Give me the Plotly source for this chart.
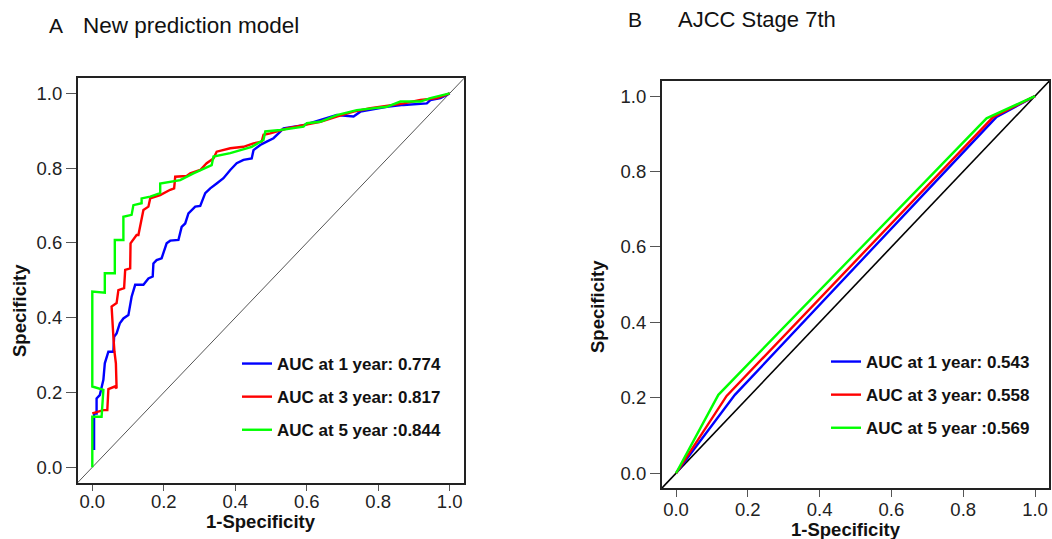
import plotly.graph_objects as go

# ---------------- data ----------------
# Panel A: New prediction model (time-dependent ROC)
a_fpr_1y = [0.005, 0.005, 0.012, 0.012, 0.021, 0.031, 0.035, 0.045, 0.059, 0.061, 0.068, 0.077, 0.087,
            0.101, 0.110, 0.120, 0.143, 0.157, 0.169, 0.171, 0.180, 0.194, 0.208, 0.218, 0.241, 0.250,
            0.260, 0.269, 0.288, 0.302, 0.316, 0.330, 0.348, 0.367, 0.386, 0.404, 0.423, 0.446, 0.451,
            0.470, 0.488, 0.507, 0.521, 0.535, 0.591, 0.638, 0.684, 0.731, 0.750, 0.824, 0.871, 0.936,
            0.946, 0.974, 1.0]
a_tpr_1y = [0.046, 0.144, 0.144, 0.184, 0.193, 0.234, 0.278, 0.309, 0.309, 0.349, 0.358, 0.385, 0.398,
            0.407, 0.456, 0.488, 0.488, 0.505, 0.510, 0.545, 0.554, 0.559, 0.599, 0.606, 0.608, 0.643,
            0.652, 0.679, 0.697, 0.699, 0.733, 0.746, 0.759, 0.773, 0.795, 0.813, 0.822, 0.826, 0.848,
            0.862, 0.871, 0.880, 0.893, 0.906, 0.915, 0.929, 0.942, 0.938, 0.951, 0.964, 0.969, 0.973,
            0.982, 0.987, 1.0]

a_fpr_3y = [0.0, 0.021, 0.031, 0.042, 0.045, 0.063, 0.068, 0.066, 0.062, 0.059, 0.054, 0.068, 0.073,
            0.089, 0.092, 0.106, 0.107, 0.124, 0.129, 0.143, 0.157, 0.162, 0.190, 0.218, 0.229, 0.232,
            0.264, 0.274, 0.302, 0.320, 0.339, 0.348, 0.386, 0.423, 0.451, 0.474, 0.479, 0.498, 0.544,
            0.591, 0.638, 0.684, 0.731, 0.778, 0.871, 0.918, 0.965, 1.0]
a_tpr_3y = [0.144, 0.149, 0.153, 0.153, 0.209, 0.216, 0.211, 0.278, 0.309, 0.349, 0.430, 0.439, 0.474,
            0.479, 0.528, 0.532, 0.599, 0.621, 0.621, 0.688, 0.697, 0.719, 0.728, 0.742, 0.746, 0.777,
            0.779, 0.786, 0.795, 0.813, 0.826, 0.844, 0.853, 0.857, 0.866, 0.871, 0.889, 0.893, 0.906,
            0.915, 0.924, 0.938, 0.951, 0.960, 0.973, 0.982, 0.987, 1.0]

a_fpr_5y = [0.0, 0.0, 0.026, 0.031, 0.0, 0.0, 0.035, 0.035, 0.063, 0.063, 0.087, 0.087, 0.110, 0.115,
            0.138, 0.138, 0.162, 0.190, 0.190, 0.227, 0.246, 0.283, 0.306, 0.334, 0.339, 0.386, 0.446,
            0.479, 0.484, 0.526, 0.591, 0.600, 0.638, 0.684, 0.740, 0.824, 0.862, 0.918, 0.946, 1.0]
a_tpr_5y = [0.0, 0.135, 0.135, 0.207, 0.216, 0.470, 0.467, 0.519, 0.519, 0.608, 0.608, 0.670, 0.675,
            0.701, 0.706, 0.719, 0.724, 0.733, 0.759, 0.764, 0.768, 0.786, 0.795, 0.808, 0.831, 0.840,
            0.857, 0.875, 0.898, 0.902, 0.911, 0.920, 0.924, 0.942, 0.955, 0.964, 0.978, 0.978, 0.987, 1.0]

# Panel B: AJCC Stage 7th
b_fpr_1y = [0.0, 0.164, 0.893, 1.0]
b_tpr_1y = [0.0, 0.208, 0.945, 1.0]
b_fpr_3y = [0.0, 0.141, 0.884, 1.0]
b_tpr_3y = [0.0, 0.205, 0.945, 1.0]
b_fpr_5y = [0.0, 0.118, 0.865, 1.0]
b_tpr_5y = [0.0, 0.208, 0.941, 1.0]

labels_a = ["AUC at 1 year: 0.774", "AUC at 3 year: 0.817", "AUC at 5 year :0.844"]
labels_b = ["AUC at 1 year: 0.543", "AUC at 3 year: 0.558", "AUC at 5 year :0.569"]

reference_line = [-0.05, 1.05]
tick_vals = [0.0, 0.2, 0.4, 0.6, 0.8, 1.0]
tick_text = ["0.0", "0.2", "0.4", "0.6", "0.8", "1.0"]

colors = ["#0000FF", "#FF0000", "#00FF00"]
FONT = "Liberation Sans, Arial, sans-serif"

fig = go.Figure()

# reference diagonals
fig.add_trace(go.Scatter(x=reference_line, y=reference_line, mode="lines",
                         line=dict(color="#555555", width=1), showlegend=False,
                         xaxis="x", yaxis="y", hoverinfo="skip"))
fig.add_trace(go.Scatter(x=reference_line, y=reference_line, mode="lines",
                         line=dict(color="#000000", width=1.6), showlegend=False,
                         xaxis="x2", yaxis="y2", hoverinfo="skip"))

# empty carriers so the label-only axes get drawn
fig.add_trace(go.Scatter(x=[], y=[], mode="lines", showlegend=False, xaxis="x3", yaxis="y",
                         hoverinfo="skip"))
fig.add_trace(go.Scatter(x=[], y=[], mode="lines", showlegend=False, xaxis="x4", yaxis="y2",
                         hoverinfo="skip"))

a_series = [(a_fpr_1y, a_tpr_1y), (a_fpr_3y, a_tpr_3y), (a_fpr_5y, a_tpr_5y)]
b_series = [(b_fpr_1y, b_tpr_1y), (b_fpr_3y, b_tpr_3y), (b_fpr_5y, b_tpr_5y)]

for i, (xs, ys) in enumerate(a_series):
    fig.add_trace(go.Scatter(x=xs, y=ys, mode="lines", name=labels_a[i],
                             line=dict(color=colors[i], width=2.4),
                             xaxis="x", yaxis="y", legend="legend",
                             legendgroup="a%d" % i))
for i, (xs, ys) in enumerate(b_series):
    fig.add_trace(go.Scatter(x=xs, y=ys, mode="lines", name=labels_b[i],
                             line=dict(color=colors[i], width=2.4),
                             xaxis="x2", yaxis="y2", legend="legend2",
                             legendgroup="b%d" % i))

W, H = 1052, 539

def px_x(p):
    return p / W

def px_y(p):
    return 1 - p / H

tick_font = dict(family=FONT, size=18.5, color="#222222")

def axis_style(ticklen, labels=True):
    return dict(
        tickvals=tick_vals, ticktext=tick_text, ticks="outside", ticklen=ticklen,
        tickwidth=1, tickcolor="#555555", showline=True, linecolor="#222222",
        linewidth=2, mirror=True, showgrid=False, zeroline=False,
        showticklabels=labels, tickfont=tick_font,
    )

def label_axis(domain, rng, overlay, pos):
    # carries only the tick labels, placed at the reference's distance from the frame
    return dict(domain=domain, range=rng, overlaying=overlay, anchor="free", position=pos,
                side="bottom", tickvals=tick_vals, ticktext=tick_text, ticks="",
                showline=False, showgrid=False, zeroline=False, tickfont=tick_font)

legend_font = dict(family=FONT, size=17, color="#111111", weight="bold")

xa_dom = [px_x(78), px_x(464)]
xb_dom = [px_x(662), px_x(1049)]
xa_rng = [-0.04, 1.04]
xb_rng = [-0.039, 1.039]

fig.update_layout(
    width=W, height=H,
    margin=dict(l=0, r=0, t=0, b=0),
    paper_bgcolor="white", plot_bgcolor="white",
    xaxis=dict(domain=xa_dom, range=xa_rng, anchor="y", **axis_style(6, labels=False)),
    yaxis=dict(domain=[px_y(483), px_y(78)], range=[-0.042, 1.041], anchor="x", **axis_style(10)),
    xaxis2=dict(domain=xb_dom, range=xb_rng, anchor="y2", **axis_style(7, labels=False)),
    yaxis2=dict(domain=[px_y(488), px_y(81)], range=[-0.039, 1.040], anchor="x2", **axis_style(10)),
    xaxis3=label_axis(xa_dom, xa_rng, "x", px_y(488)),
    xaxis4=label_axis(xb_dom, xb_rng, "x2", px_y(496)),
    legend=dict(x=px_x(237), y=px_y(346), xanchor="left", yanchor="top",
                bgcolor="rgba(0,0,0,0)", tracegroupgap=8, font=legend_font),
    legend2=dict(x=px_x(826), y=px_y(344), xanchor="left", yanchor="top",
                 bgcolor="rgba(0,0,0,0)", tracegroupgap=8, font=legend_font),
    showlegend=True,
)

ann = []
# panel titles
ann.append(dict(text="A", x=px_x(47), y=px_y(25), xref="paper", yref="paper",
                xanchor="left", yanchor="middle", showarrow=False,
                font=dict(family=FONT, size=21, color="#111111")))
ann.append(dict(text="New prediction model", x=px_x(81), y=px_y(25), xref="paper", yref="paper",
                xanchor="left", yanchor="middle", showarrow=False,
                font=dict(family=FONT, size=22.5, color="#111111")))
ann.append(dict(text="B", x=px_x(626), y=px_y(20), xref="paper", yref="paper",
                xanchor="left", yanchor="middle", showarrow=False,
                font=dict(family=FONT, size=21, color="#111111")))
ann.append(dict(text="AJCC Stage 7th", x=px_x(676), y=px_y(20), xref="paper", yref="paper",
                xanchor="left", yanchor="middle", showarrow=False,
                font=dict(family=FONT, size=22, color="#111111")))
# axis titles
title_font = dict(family=FONT, size=18.5, color="#111111", weight="bold")
ann.append(dict(text="1-Specificity", x=px_x(261), y=px_y(521), xref="paper", yref="paper",
                xanchor="center", yanchor="middle", showarrow=False, font=title_font))
ann.append(dict(text="Specificity", x=px_x(19), y=px_y(310), xref="paper", yref="paper",
                xanchor="center", yanchor="middle", showarrow=False, textangle=-90, font=title_font))
ann.append(dict(text="1-Specificity", x=px_x(846), y=px_y(529), xref="paper", yref="paper",
                xanchor="center", yanchor="middle", showarrow=False, font=title_font))
ann.append(dict(text="Specificity", x=px_x(597), y=px_y(307), xref="paper", yref="paper",
                xanchor="center", yanchor="middle", showarrow=False, textangle=-90, font=title_font))
fig.update_layout(annotations=ann)

fig.write_html("out.html")
